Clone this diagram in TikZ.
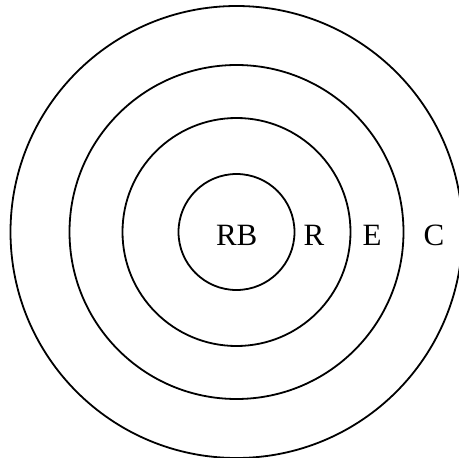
\documentclass[tikz,border=0pt]{standalone}
\usepackage{fontspec}
\setmainfont{Liberation Serif}
\begin{document}
\begin{tikzpicture}[x=1pt,y=-1pt,
  ring/.style={draw, circle, line width=1.8pt, inner sep=0pt, outer sep=0pt},
  tag/.style={anchor=base, inner sep=0pt, font=\fontsize{31}{36}\selectfont}]
\useasboundingbox (0,0) rectangle (459,458);
\coordinate (o) at (236.5,232);

\node[ring, minimum size=452pt] (c) at (o) {};
\node[ring, minimum size=334pt] (e) at (o) {};
\node[ring, minimum size=228pt] (r) at (o) {};
\node[ring, minimum size=116pt] (rb) at (o) {};

\node[tag] (rbtag) at (236.7,245.5) {RB};
\node[tag] (rtag) at (314,245.5) {R};
\node[tag] (etag) at (372,245.5) {E};
\node[tag] (ctag) at (434,245.5) {C};
\end{tikzpicture}
\end{document}
